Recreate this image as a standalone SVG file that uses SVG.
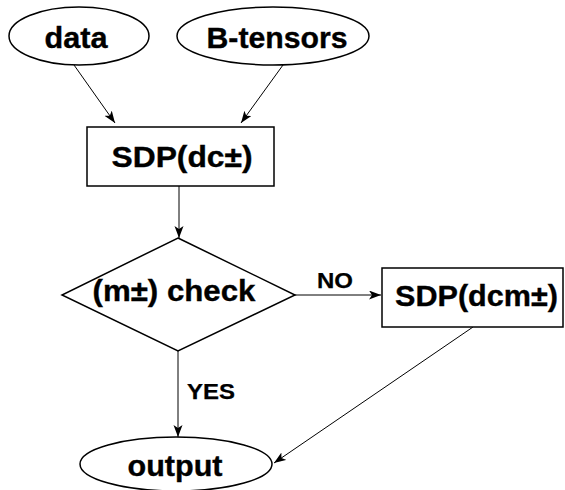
<svg xmlns="http://www.w3.org/2000/svg" width="565" height="490" viewBox="0 0 565 490">
<style>
.shape{fill:#fff;stroke:#000;stroke-width:1.5}
.lbl{font-family:"Liberation Sans",Arial,sans-serif;font-weight:bold;font-size:29px;fill:#000;stroke:#000;stroke-width:0.35;text-anchor:middle}
.small{font-size:22px;stroke-width:0.25}
.edge{stroke:#000;stroke-width:1;fill:none;marker-end:url(#ah)}
</style>
<defs>
<marker id="ah" markerWidth="13" markerHeight="10" refX="12" refY="4.5" orient="auto" markerUnits="userSpaceOnUse">
<path d="M0,0 L12,4.5 L0,9 L3,4.5 z" fill="#000"/>
</marker>
</defs>
<rect width="565" height="490" fill="#fff"/>
<g id="edges">
<line class="edge" x1="74" y1="65" x2="115" y2="123"/>
<line class="edge" x1="283" y1="65" x2="241" y2="123"/>
<line class="edge" x1="179" y1="186" x2="179" y2="238"/>
<line class="edge" x1="295" y1="295" x2="381" y2="295"/>
<line class="edge" x1="473" y1="327" x2="274" y2="463"/>
<line class="edge" x1="178" y1="351" x2="178" y2="437"/>
<text class="lbl small" x="335" y="288" textLength="36" lengthAdjust="spacingAndGlyphs">NO</text>
<text class="lbl small" x="211" y="399" textLength="48" lengthAdjust="spacingAndGlyphs">YES</text>
</g>
<g id="data">
<ellipse class="shape" cx="79" cy="36" rx="70" ry="29"/>
<text class="lbl" x="76" y="47.5" textLength="63" lengthAdjust="spacingAndGlyphs">data</text>
</g>
<g id="btensors">
<ellipse class="shape" cx="273" cy="36" rx="96" ry="29"/>
<text class="lbl" x="277" y="47.5" textLength="141" lengthAdjust="spacingAndGlyphs">B-tensors</text>
</g>
<g id="sdp1">
<rect class="shape" x="87" y="127" width="187" height="59"/>
<text class="lbl" x="182" y="167" textLength="141" lengthAdjust="spacingAndGlyphs">SDP(dc±)</text>
</g>
<g id="check">
<polygon class="shape" points="178,238 295,295 178,351 62,295"/>
<text class="lbl" x="174" y="301" textLength="163" lengthAdjust="spacingAndGlyphs">(m±) check</text>
</g>
<g id="sdp2">
<rect class="shape" x="382" y="268" width="181" height="59"/>
<text class="lbl" x="476.5" y="306" textLength="163" lengthAdjust="spacingAndGlyphs">SDP(dcm±)</text>
</g>
<g id="output">
<ellipse class="shape" cx="176" cy="464" rx="96" ry="27"/>
<text class="lbl" x="175" y="476" textLength="95" lengthAdjust="spacingAndGlyphs">output</text>
</g>
</svg>
